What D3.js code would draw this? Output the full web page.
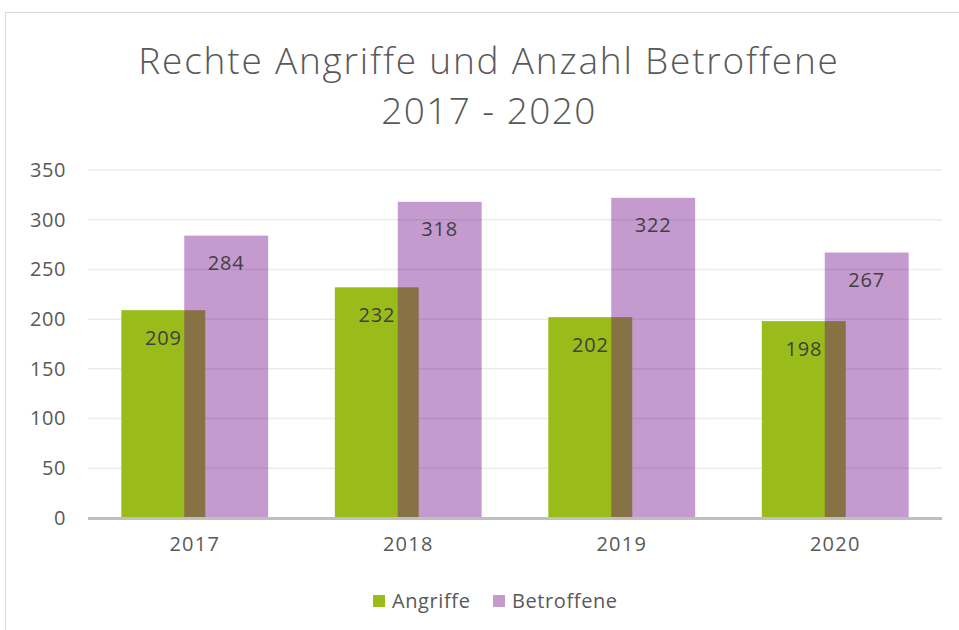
<!DOCTYPE html>
<html>
<head>
<meta charset="utf-8">
<title>Rechte Angriffe und Anzahl Betroffene</title>
<script src="https://d3js.org/d3.v7.min.js"></script>
<style>
  html, body { margin: 0; padding: 0; background: #fff; }
  svg text { font-family: "Open Sans", "Noto Sans", sans-serif; }
</style>
</head>
<body>
<svg id="chart" width="959" height="630"></svg>
<script>
// data
const years = ["2017", "2018", "2019", "2020"];
const angriffe = [209, 232, 202, 198];
const betroffene = [284, 318, 322, 267];
const yTicks = [0, 50, 100, 150, 200, 250, 300, 350];
const seriesNames = ["Angriffe", "Betroffene"];

const svg = d3.select("#chart");

// chart frame (Excel style border)
svg.append("rect")
  .attr("x", 5.5).attr("y", 12.5)
  .attr("width", 980).attr("height", 640)
  .attr("fill", "#fff")
  .attr("stroke", "#d9d9d9");

// title
svg.append("text")
  .attr("x", 489).attr("y", 74)
  .attr("text-anchor", "middle")
  .attr("font-size", 37).attr("font-weight", 300)
  .attr("letter-spacing", 1.8)
  .attr("fill", "#595959")
  .text("Rechte Angriffe und Anzahl Betroffene");
svg.append("text")
  .attr("x", 489).attr("y", 124)
  .attr("text-anchor", "middle")
  .attr("font-size", 37).attr("font-weight", 300)
  .attr("letter-spacing", 1.4)
  .attr("fill", "#595959")
  .text("2017 - 2020");

// scales
const x = d3.scaleBand().domain(years).range([88, 942]);
const y = d3.scaleLinear().domain([0, 350]).range([518, 170]);

// gridlines
svg.append("g")
  .selectAll("line")
  .data(yTicks.filter(d => d > 0))
  .join("line")
  .attr("x1", 88).attr("x2", 942)
  .attr("y1", d => y(d)).attr("y2", d => y(d))
  .attr("stroke", "#ececec").attr("stroke-width", 1.5);

// y axis labels
const yAxis = svg.append("g")
  .attr("transform", "translate(66,0)")
  .call(d3.axisLeft(y).tickValues(yTicks).tickSize(0).tickPadding(0));
yAxis.select(".domain").remove();
yAxis.selectAll("text")
  .attr("font-size", 20).attr("letter-spacing", 0.6).attr("fill", "#595959")
  .attr("font-family", "Open Sans, sans-serif");

// bars
const bw = x.bandwidth() * 0.393;
const overlap = bw * 0.25;
const groupW = bw * 2 - overlap;
const left = d => x(d) + x.bandwidth() / 2 - groupW / 2;

svg.append("g")
  .selectAll("rect")
  .data(years)
  .join("rect")
  .attr("x", d => left(d))
  .attr("y", (d, i) => y(angriffe[i]))
  .attr("width", bw)
  .attr("height", (d, i) => y(0) - y(angriffe[i]))
  .attr("fill", "#99bc1a");

svg.append("g")
  .selectAll("rect")
  .data(years)
  .join("rect")
  .attr("x", d => left(d) + bw - overlap)
  .attr("y", (d, i) => y(betroffene[i]))
  .attr("width", bw)
  .attr("height", (d, i) => y(0) - y(betroffene[i]))
  .attr("fill", "#6c0387")
  .attr("fill-opacity", 0.4);

// data labels
svg.append("g")
  .selectAll("text")
  .data(years)
  .join("text")
  .attr("x", d => left(d) + bw / 2)
  .attr("y", (d, i) => y(angriffe[i]) + 35)
  .attr("text-anchor", "middle")
  .attr("font-size", 20).attr("letter-spacing", 0.8).attr("fill", "#404040")
  .text((d, i) => angriffe[i]);

svg.append("g")
  .selectAll("text")
  .data(years)
  .join("text")
  .attr("x", d => left(d) + bw - overlap + bw / 2)
  .attr("y", (d, i) => y(betroffene[i]) + 34)
  .attr("text-anchor", "middle")
  .attr("font-size", 20).attr("letter-spacing", 0.8).attr("fill", "#404040")
  .text((d, i) => betroffene[i]);

// x axis
svg.append("line")
  .attr("x1", 88).attr("x2", 942)
  .attr("y1", 518.5).attr("y2", 518.5)
  .attr("stroke", "#bfbfbf").attr("stroke-width", 3);

const xAxis = svg.append("g")
  .attr("transform", "translate(0,537)")
  .call(d3.axisBottom(x).tickSize(0).tickPadding(0));
xAxis.select(".domain").remove();
xAxis.selectAll("text")
  .attr("font-size", 20).attr("letter-spacing", 1.2).attr("fill", "#595959")
  .attr("font-family", "Open Sans, sans-serif");

// legend
const colors = ["#99bc1a", "#c49acf"];
const legendX = [373, 493];
const legend = svg.append("g")
  .selectAll("g")
  .data(seriesNames)
  .join("g")
  .attr("transform", (d, i) => `translate(${legendX[i]},595)`);
legend.append("rect")
  .attr("width", 12).attr("height", 12)
  .attr("fill", (d, i) => colors[i]);
legend.append("text")
  .attr("x", 19).attr("y", 13)
  .attr("font-size", 20).attr("letter-spacing", 0.6).attr("fill", "#595959")
  .text(d => d);
</script>
</body>
</html>
